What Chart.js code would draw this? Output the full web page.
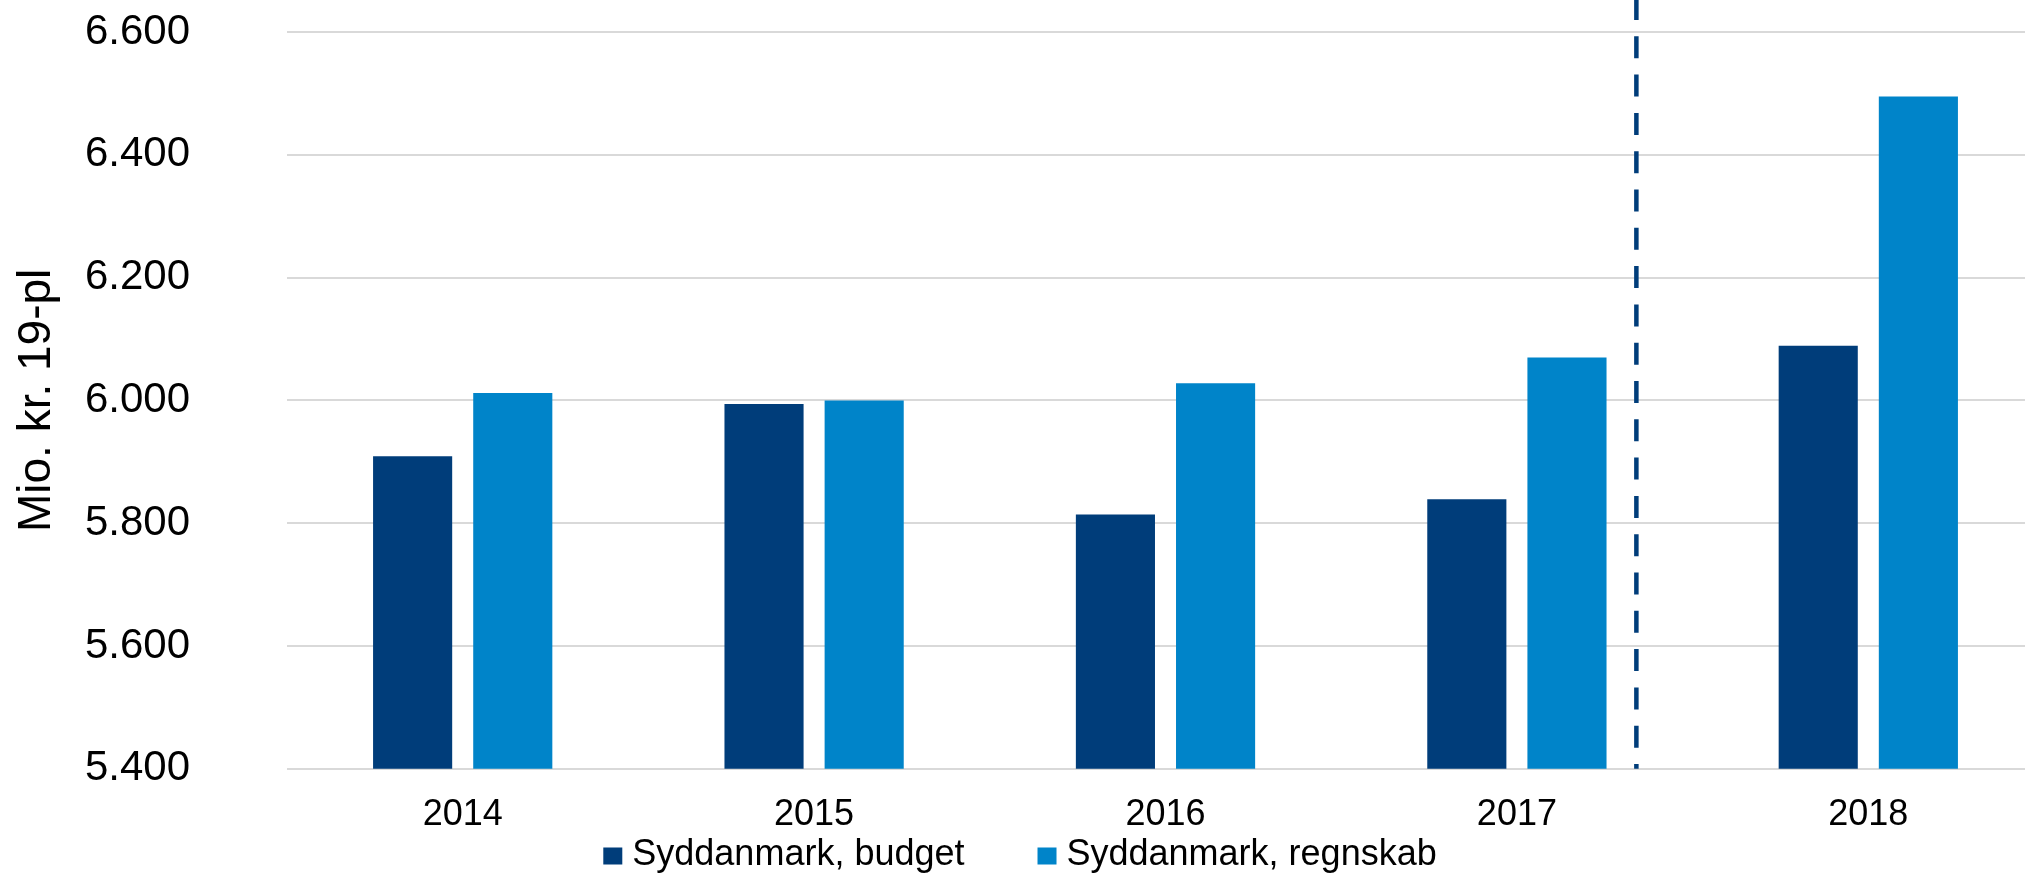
<!DOCTYPE html>
<html>
<head>
<meta charset="utf-8">
<title>Syddanmark budget og regnskab</title>
<script src="https://cdn.jsdelivr.net/npm/chart.js@4/dist/chart.umd.min.js"></script>
<style>
    html, body { margin: 0; padding: 0; background: #fff; }
    /* plot runs a little past the right edge, so the canvas is cropped */
    #wrap { width: 2025px; height: 876px; overflow: hidden; }
</style>
</head>
<body>
<div id="wrap"><canvas id="budgetChart" width="2044" height="876"></canvas></div>
<script>
const years = ['2014', '2015', '2016', '2017', '2018'];
const budget = [5909, 5994, 5814, 5839, 6089];
const regnskab = [6012, 6000, 6028, 6070, 6495];
const seriesNames = ['Syddanmark, budget', 'Syddanmark, regnskab'];
const yAxisTitle = 'Mio. kr. 19-pl';
const yMin = 5400, yMax = 6600, yStep = 200;
// dashed divider sits between 2017 and 2018 (category index units)
const dividerAt = 3.34;

const darkBlue = '#003D7A';
const lightBlue = '#0084C9';
const fontFamily = 'Arial, "Liberation Sans", sans-serif';

function formatDa(v) {
    return String(v).replace(/\B(?=(\d{3})+(?!\d))/g, '.');
}

// vertical dashed line through the whole plot height
const dividerLine = {
    id: 'dividerLine',
    afterDatasetsDraw(chart) {
        const ctx = chart.ctx;
        const x = chart.scales.x.getPixelForValue(dividerAt);
        ctx.save();
        ctx.strokeStyle = darkBlue;
        ctx.lineWidth = 4.5;
        ctx.setLineDash([22, 16.3]);
        ctx.lineDashOffset = 2;
        ctx.beginPath();
        ctx.moveTo(x, 0);
        ctx.lineTo(x, chart.chartArea.bottom);
        ctx.stroke();
        ctx.restore();
    }
};

// legend row at the bottom
const bottomLegend = {
    id: 'bottomLegend',
    afterDraw(chart) {
        const ctx = chart.ctx;
        const boxW = 19, boxH = 17, textGap = 10, itemGap = 73;
        ctx.save();
        ctx.font = '36px ' + fontFamily;
        const items = chart.data.datasets.map(ds => ({
            text: ds.label,
            color: ds.backgroundColor,
            w: boxW + textGap + ctx.measureText(ds.label).width
        }));
        const total = items.reduce((s, it) => s + it.w, 0) + itemGap * (items.length - 1);
        let x = chart.width / 2 - 2 - total / 2;
        const y = chart.height - 21;
        ctx.textBaseline = 'middle';
        ctx.textAlign = 'left';
        items.forEach(it => {
            ctx.fillStyle = it.color;
            ctx.fillRect(x, y - boxH / 2 + 1, boxW, boxH);
            ctx.fillStyle = '#000';
            ctx.fillText(it.text, x + boxW + textGap, y);
            x += it.w + itemGap;
        });
        ctx.restore();
    }
};

const ctx = document.getElementById('budgetChart').getContext('2d');
new Chart(ctx, {
    type: 'bar',
    data: {
        labels: years,
        datasets: [{
            label: seriesNames[0],
            data: budget,
            backgroundColor: darkBlue,
            categoryPercentage: 0.57,
            barPercentage: 0.79
        }, {
            label: seriesNames[1],
            data: regnskab,
            backgroundColor: lightBlue,
            categoryPercentage: 0.57,
            barPercentage: 0.79
        }]
    },
    options: {
        responsive: false,
        animation: false,
        layout: {
            padding: { left: 0, right: 0, top: 32, bottom: 22 }
        },
        plugins: {
            legend: { display: false },
            tooltip: { enabled: false }
        },
        scales: {
            x: {
                grid: { display: false },
                border: { display: false },
                ticks: {
                    color: '#000',
                    padding: 17,
                    font: { family: fontFamily, size: 36 }
                }
            },
            y: {
                min: yMin,
                max: yMax,
                afterFit(scale) {
                    scale.width = 287;
                },
                title: {
                    display: true,
                    text: yAxisTitle,
                    color: '#000',
                    padding: { top: 10, bottom: 0 },
                    font: { family: fontFamily, size: 46 }
                },
                grid: {
                    color: '#D9D9D9',
                    lineWidth: 2,
                    tickLength: 97,
                    tickColor: 'rgba(0,0,0,0)'
                },
                border: { display: false },
                ticks: {
                    stepSize: yStep,
                    color: '#000',
                    padding: 0,
                    font: { family: fontFamily, size: 42 },
                    callback: v => formatDa(v)
                }
            }
        }
    },
    plugins: [dividerLine, bottomLegend]
});
</script>
</body>
</html>
